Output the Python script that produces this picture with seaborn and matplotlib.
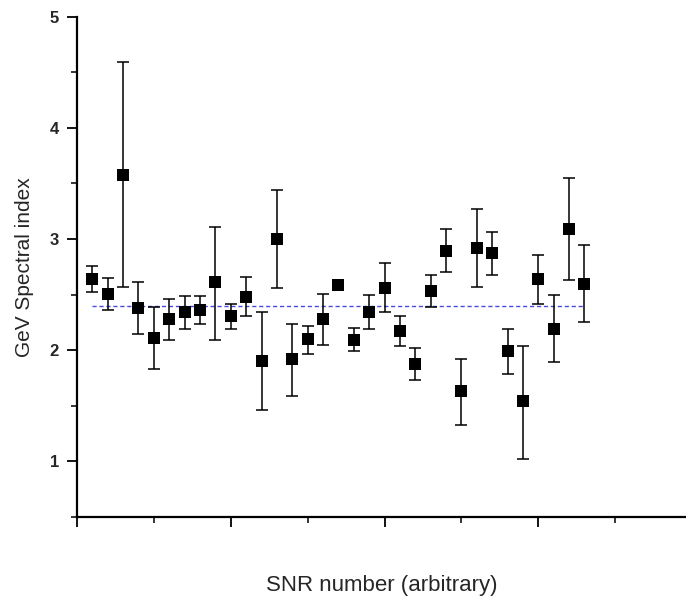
import numpy as np
import pandas as pd
import seaborn as sns
import matplotlib.pyplot as plt
from matplotlib.ticker import MultipleLocator, NullFormatter

## Values
snr_id = list(range(1, 34))
spectral_index = [2.64, 2.51, 3.58, 2.38, 2.11, 2.28, 2.34, 2.36, 2.61, 2.31,
                  2.48, 1.90, 3.00, 1.92, 2.10, 2.28, 2.59, 2.09, 2.34, 2.56,
                  2.17, 1.88, 2.53, 2.89, 1.63, 2.92, 2.87, 1.99, 1.54, 2.64,
                  2.19, 3.09, 2.60]
err_upper = [2.76, 2.65, 4.59, 2.61, 2.39, 2.46, 2.49, 2.49, 3.11, 2.42,
             2.66, 2.34, 3.44, 2.24, 2.22, 2.51, 2.62, 2.20, 2.50, 2.78,
             2.31, 2.02, 2.68, 3.09, 1.92, 3.27, 3.06, 2.19, 2.04, 2.86,
             2.50, 3.55, 2.95]
err_lower = [2.52, 2.36, 2.57, 2.15, 1.83, 2.09, 2.19, 2.24, 2.09, 2.19,
             2.31, 1.46, 2.56, 1.59, 1.97, 2.05, 2.56, 1.99, 2.19, 2.34,
             2.04, 1.73, 2.39, 2.70, 1.33, 2.57, 2.68, 1.79, 1.02, 2.42,
             1.89, 2.63, 2.25]
mean_index = 2.40

df = pd.DataFrame({'snr': snr_id, 'index': spectral_index,
                   'hi': err_upper, 'lo': err_lower})

sns.set_style('ticks')
plt.rcParams['font.family'] = ['Liberation Sans', 'DejaVu Sans']

fig = plt.figure(figsize=(6.86, 5.98), dpi=100)
ax = fig.add_axes([0.1122, 0.1355, 0.8878, 0.8366])

# mean line
ax.plot([df['snr'].min(), df['snr'].max()], [mean_index, mean_index],
        color='#4a4ae0', linestyle=(0, (3, 2)), linewidth=1.0, zorder=1)

# asymmetric error bars
yerr = np.vstack([df['index'] - df['lo'], df['hi'] - df['index']])
ax.errorbar(df['snr'], df['index'], yerr=yerr, fmt='none', ecolor='black',
            elinewidth=1.1, capsize=4, capthick=1.1, zorder=2)

sns.scatterplot(data=df, x='snr', y='index', marker='s', s=75, color='black',
                edgecolor='black', linewidth=0, ax=ax, zorder=3)

ax.set_xlim(0, 39.6)
ax.set_ylim(0.5, 5.0)

ax.yaxis.set_major_locator(MultipleLocator(1))
ax.yaxis.set_minor_locator(MultipleLocator(0.5))
ax.xaxis.set_major_locator(MultipleLocator(10))
ax.xaxis.set_minor_locator(MultipleLocator(5))
ax.xaxis.set_major_formatter(NullFormatter())

ax.tick_params(axis='both', which='major', direction='out', length=7,
               width=1.3, color='black')
ax.tick_params(axis='both', which='minor', direction='out', length=4,
               width=1.1, color='black')
ax.tick_params(axis='y', which='major', labelsize=12, pad=6)
for lab in ax.get_yticklabels():
    lab.set_fontweight('bold')

for side in ['top', 'right']:
    ax.spines[side].set_visible(False)
for side in ['left', 'bottom']:
    ax.spines[side].set_linewidth(1.6)
    ax.spines[side].set_color('black')

ax.set_xlabel('SNR number (arbitrary)', fontsize=16, labelpad=31)
ax.set_ylabel('GeV Spectral index', fontsize=15)
ax.yaxis.set_label_coords(-0.07, 0.5)

fig.savefig('out.png', dpi=100, facecolor='white')
